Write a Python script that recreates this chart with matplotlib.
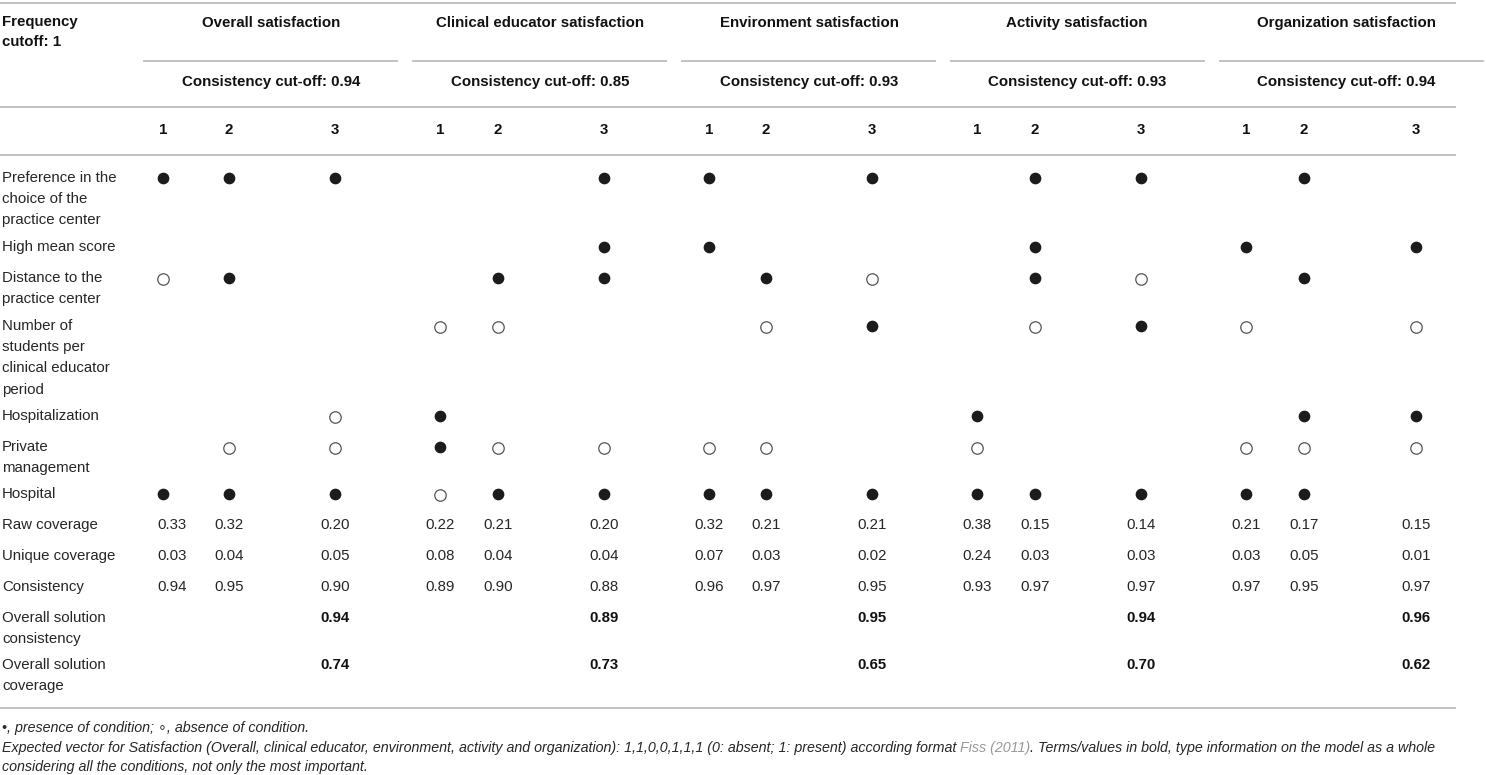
import matplotlib
matplotlib.use('Agg')
import matplotlib.pyplot as plt

plt.rcParams['font.family'] = ['Liberation Sans', 'DejaVu Sans']

# ---- table content ----
groups = ['Overall satisfaction', 'Clinical educator satisfaction', 'Environment satisfaction',
          'Activity satisfaction', 'Organization satisfaction']
cutoffs = [0.94, 0.85, 0.93, 0.93, 0.94]
solutions = ['1', '2', '3']

conditions = ['Preference in the\nchoice of the\npractice center',
              'High mean score',
              'Distance to the\npractice center',
              'Number of\nstudents per\nclinical educator\nperiod',
              'Hospitalization',
              'Private\nmanagement',
              'Hospital']

# 1 = presence (filled), 0 = absence (open), None = blank ; 5 groups x 3 solutions
N = None
preference      = [1, 1, 1,  N, N, 1,  1, N, 1,  N, 1, 1,  N, 1, N]
high_mean       = [N, N, N,  N, N, 1,  1, N, N,  N, 1, N,  1, N, 1]
distance        = [0, 1, N,  N, 1, 1,  N, 1, 0,  N, 1, 0,  N, 1, N]
n_students      = [N, N, N,  0, 0, N,  N, 0, 1,  N, 0, 1,  0, N, 0]
hospitalization = [N, N, 0,  1, N, N,  N, N, N,  1, N, N,  N, 1, 1]
private_mgmt    = [N, 0, 0,  1, 0, 0,  0, 0, N,  0, N, N,  0, 0, 0]
hospital        = [1, 1, 1,  0, 1, 1,  1, 1, 1,  1, 1, 1,  1, 1, N]
condition_rows = [preference, high_mean, distance, n_students,
                  hospitalization, private_mgmt, hospital]

stat_labels = ['Raw coverage', 'Unique coverage', 'Consistency']
raw_cov     = [0.33, 0.32, 0.20, 0.22, 0.21, 0.20, 0.32, 0.21, 0.21, 0.38, 0.15, 0.14, 0.21, 0.17, 0.15]
unique_cov  = [0.03, 0.04, 0.05, 0.08, 0.04, 0.04, 0.07, 0.03, 0.02, 0.24, 0.03, 0.03, 0.03, 0.05, 0.01]
consistency = [0.94, 0.95, 0.90, 0.89, 0.90, 0.88, 0.96, 0.97, 0.95, 0.93, 0.97, 0.97, 0.97, 0.95, 0.97]
stat_rows = [raw_cov, unique_cov, consistency]

overall_labels = ['Overall solution\nconsistency', 'Overall solution\ncoverage']
sol_consistency = [0.94, 0.89, 0.95, 0.94, 0.96]
sol_coverage    = [0.74, 0.73, 0.65, 0.70, 0.62]
overall_rows = [sol_consistency, sol_coverage]

note1 = '\u2022, presence of condition; \u2218, absence of condition.'
note2 = ['Expected vector for Satisfaction (Overall, clinical educator, environment, activity and '
         'organization): 1,1,0,0,1,1,1 (0: absent; 1: present) according format ',
         'Fiss (2011)',
         '. Terms/values in bold, type information on the model as a whole']
note3 = 'considering all the conditions, not only the most important.'

# ---- layout (pixel coordinates) ----
W, H = 1486, 775
col_x = [163, 229, 335, 440, 498, 604, 709, 766, 872, 977, 1035, 1141, 1246, 1304, 1416]
val_x = [172] + col_x[1:]
group_cx = [271, 540, 809, 1077, 1346]
group_span = [(143, 398), (412, 667), (681, 936), (950, 1205), (1219, 1484)]
cond_y = [178, 247, 278, 326, 416, 447, 494]
stat_y = [525, 556, 587]
overall_y = [618, 665]
line_h = 21.2

TXT = '#262626'
HDR = '#111111'
RULE = '#b8b8b8'
FS = 10.8

fig = plt.figure(figsize=(W / 100, H / 100), dpi=100)
ax = fig.add_axes([0, 0, 1, 1])
ax.set_xlim(0, W)
ax.set_ylim(H, 0)
ax.axis('off')


def label(x, y, s, **kw):
    for i, part in enumerate(s.split('\n')):
        ax.text(x, y + i * line_h, part, va='center', **kw)


# rules
for y in [3, 107, 155, 708]:
    ax.plot([0, 1456], [y, y], color=RULE, lw=1.2, solid_capstyle='butt')
for x0, x1 in group_span:
    ax.plot([x0, x1], [61, 61], color=RULE, lw=1.2, solid_capstyle='butt')

# header
ax.text(2, 22, 'Frequency', fontsize=FS, fontweight='bold', color=HDR, va='center')
ax.text(2, 42, 'cutoff: 1', fontsize=FS, fontweight='bold', color=HDR, va='center')
for g, c, cx in zip(groups, cutoffs, group_cx):
    ax.text(cx, 23, g, fontsize=FS, fontweight='bold', color=HDR, ha='center', va='center')
    ax.text(cx, 82, 'Consistency cut-off: {:.2f}'.format(c), fontsize=FS,
            fontweight='bold', color=HDR, ha='center', va='center')
for k, x in enumerate(col_x):
    ax.text(x, 130, solutions[k % 3], fontsize=FS, fontweight='bold', color=HDR,
            ha='center', va='center')

# condition rows
for name, row, y in zip(conditions, condition_rows, cond_y):
    label(2, y, name, fontsize=FS, color=TXT)
    full = [col_x[k] for k, v in enumerate(row) if v == 1]
    empty = [col_x[k] for k, v in enumerate(row) if v == 0]
    ax.scatter(full, [y] * len(full), s=55, color='#1c1c1c', zorder=3)
    ax.scatter(empty, [y + 1] * len(empty), s=68, facecolor='white',
               edgecolor='#555555', linewidth=0.9, zorder=3)

# statistics
for name, row, y in zip(stat_labels, stat_rows, stat_y):
    label(2, y, name, fontsize=FS, color=TXT)
    for x, v in zip(val_x, row):
        ax.text(x, y, '{:.2f}'.format(v), fontsize=FS, color=TXT, ha='center', va='center')

for name, row, y in zip(overall_labels, overall_rows, overall_y):
    label(2, y, name, fontsize=FS, color=TXT)
    for g, v in enumerate(row):
        ax.text(col_x[3 * g + 2], y, '{:.2f}'.format(v), fontsize=FS, fontweight='bold',
                color=HDR, ha='center', va='center')

# footnotes
NFS = 10.3
fn = dict(fontsize=NFS, style='italic', va='center')
ax.text(2, 728, note1, color=TXT, **fn)
renderer = fig.canvas.get_renderer()
x = 2
for part, col in zip(note2, [TXT, '#999999', TXT]):
    t = ax.text(x, 748, part, color=col, **fn)
    bb = t.get_window_extent(renderer=renderer)
    x += bb.width
ax.text(2, 767, note3, color=TXT, **fn)

fig.savefig('out.png', dpi=100, facecolor='white')
